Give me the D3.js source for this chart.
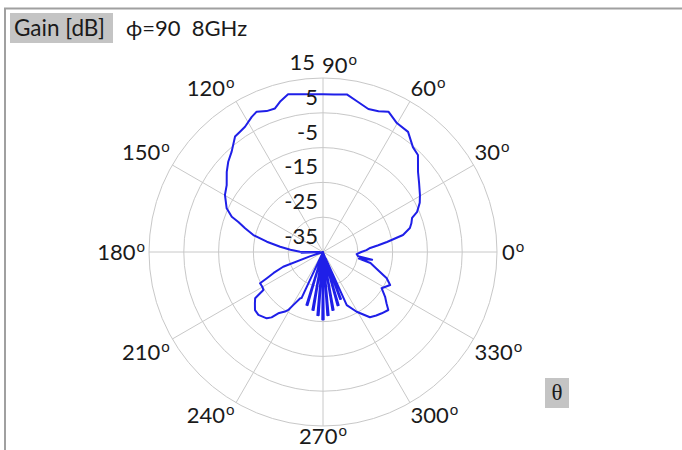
<!DOCTYPE html>
<html>
<head>
<meta charset="utf-8">
<script src="https://cdn.jsdelivr.net/npm/d3@7"></script>
<style>
  html, body { margin: 0; padding: 0; background: #fff; }
  svg { display: block; }
  text { font-family: Lato, "Open Sans", sans-serif; fill: #1a1a1a; }
</style>
</head>
<body>
<svg id="chart" width="682" height="450"></svg>
<script>
// Radiation pattern, phi = 90, 8 GHz: gain (dB) against theta (degrees)
const thetaDeg = [
  0, 2.5, 4.9, 7, 8.9, 12.0, 15.4, 18, 20.9, 23.1, 27, 30.4, 35.7, 40.1, 45.6, 49.4,
  54.7, 60.2, 65.0, 68.5, 72.4, 77.3, 81.4, 86, 90, 95, 100, 102.5, 106.0, 108.5,
  111.8, 115.3, 117.8, 121.9, 124.6, 127.3, 132.3, 136.4, 140.2, 145.2, 149.8, 155.6,
  158.9, 160.5, 163.1, 166.3, 169.6, 173.0, 176.0, 179.3, 180.6, 181.8, 183.2, 186,
  195, 198.5, 200.3, 203, 205.0, 206.4, 209.5, 212.5, 213.6, 214.3, 217, 220.5, 224.2,
  229.7, 231.8, 233.9, 237.5, 239.1, 240.7, 243.8, 245.0, 249.0, 252.6, 253.8, 256.7,
  259.6, 260.8, 262.9, 264.9, 266.1, 267.8, 269.4, 270.6, 272.3, 273.9, 275.1, 277.2,
  279.2, 280.4, 282.8, 285.2, 286.4, 288.2, 290.0, 291.0, 292.5,
  294.1, 299.4, 305.7, 310, 313.8, 318.4, 321, 324.2, 328.3, 333.8, 337.6, 342, 347,
  349.5, 351, 353, 356.4
];
const gainDb = [
  -24.0, -22.5, -21.4, -19.0, -16.4, -11.5, -9.1, -8.3, -7.6, -5.6, -3.8, -2.7, -1.0, 0.7, 4.0, 4.7,
  7.3, 7.7, 9.5, 8.5, 8.1, 9.4, 10.8, 10.4, 10.3, 10.5, 11.0, 11.4, 9.9, 8.5,
  8.6, 9.6, 8.9, 7.4, 7.0, 6.7, 4.0, 2.6, 1.0, -1.3, -2.4, -4.6,
  -6.9, -9.2, -11.6, -14.4, -18.6, -22.6, -25.6, -28.4, -34, -28.8, -35, -35,
  -35, -31, -22.8, -19.6, -17.2, -14.8, -14.9, -14.7, -12.7, -11.4, -10.5, -9.3, -9.1,
  -10.0, -11.1, -13.2, -14.7, -15.6, -17.5, -20.2, -20.4, -35, -19.1, -19.1, -35,
  -18.1, -18.1, -35, -16.8, -16.8, -35, -15.6, -15.6, -35, -16.8, -16.8, -35,
  -18.1, -18.1, -35, -19.1, -19.1, -35, -20.6, -20.6, -33,
  -18.3, -15.3, -11.9, -11.2, -10.6, -9.9, -11.5, -13.0, -15.2, -13.5, -15.2, -18.5, -21.0,
  -24.5, -20.7, -24.8, -25.3
];

// Axis ticks
const ringValues = [-25, -15, -5, 5, 15];
const ringLabels = [-35, -25, -15, -5, 5, 15];
const angleTicks = [0, 30, 60, 90, 120, 150, 180, 210, 240, 270, 300, 330];

const svg = d3.select("#chart");
const cx = 323, cy = 252, R = 174;
const rScale = d3.scaleLinear().domain([-35, 15]).range([0, R]).clamp(true);
const toRad = d => d * Math.PI / 180;
const FS = 22;

// outer frame lines
svg.append("line").attr("x1", 4).attr("x2", 682).attr("y1", 8.5).attr("y2", 8.5)
  .attr("stroke", "#a0a0a0").attr("stroke-width", 2);
svg.append("line").attr("x1", 5).attr("x2", 5).attr("y1", 8).attr("y2", 450)
  .attr("stroke", "#a0a0a0").attr("stroke-width", 2);

const g = svg.append("g").attr("transform", `translate(${cx},${cy})`);

// grid rings
g.selectAll("circle.ring").data(ringValues).join("circle")
  .attr("class", "ring").attr("r", d => rScale(d))
  .attr("fill", "none").attr("stroke", "#c8c8c8").attr("stroke-width", 1);

// spokes
g.selectAll("line.spoke").data(angleTicks).join("line")
  .attr("class", "spoke")
  .attr("x1", 0).attr("y1", 0)
  .attr("x2", d => R * Math.cos(toRad(d)))
  .attr("y2", d => -R * Math.sin(toRad(d)))
  .attr("stroke", "#c8c8c8").attr("stroke-width", 1);

// pattern trace
const pts = thetaDeg.map((t, i) => ({ t, v: gainDb[i] }));
const radial = d3.lineRadial()
  .angle(d => Math.PI / 2 - toRad(d.t))
  .radius(d => rScale(d.v))
  .curve(d3.curveLinearClosed);
g.append("path").attr("d", radial(pts))
  .attr("fill", "none").attr("stroke", "#1f1fe8").attr("stroke-width", 2)
  .attr("stroke-linejoin", "round");

// radial labels
g.selectAll("text.rlab").data(ringLabels).join("text")
  .attr("class", "rlab")
  .attr("x", d => d === 15 ? -8 : -5)
  .attr("y", d => -rScale(d) - 8)
  .attr("text-anchor", "end")
  .attr("font-size", FS)
  .text(d => d);

// angle labels with superscript degree mark
angleTicks.forEach(a => {
  const c = Math.cos(toRad(a)), s = Math.sin(toRad(a));
  let anchor = "middle", x = 0;
  if (c > 0.01) { anchor = "start"; x = (R + 1) * c + (Math.abs(s) < 0.01 ? 4 : 0); }
  else if (c < -0.01) { anchor = "end"; x = (R + 3) * c - (Math.abs(s) < 0.01 ? 1 : 0); }
  let y = -R * s - 13 * Math.sign(Math.round(s * 1000));
  if (a === 90) { anchor = "start"; x = -1; }
  if (a === 270) { y -= 3; }
  const t = g.append("text")
    .attr("x", x).attr("y", y).attr("dy", "0.35em")
    .attr("text-anchor", anchor).attr("font-size", FS);
  t.append("tspan").text(a);
  t.append("tspan").attr("dy", -8).attr("dx", 1).attr("font-size", 15).text("o");
});

// header
svg.append("rect").attr("x", 10).attr("y", 13).attr("width", 103).attr("height", 30)
  .attr("fill", "#c4c4c4");
svg.append("text").attr("x", 14).attr("y", 36).attr("font-size", 22.5).text("Gain [dB]");
svg.append("text").attr("x", 126).attr("y", 36).attr("font-size", FS)
  .attr("xml:space", "preserve").text("\u03d5=90  8GHz");

// theta axis marker
svg.append("rect").attr("x", 545).attr("y", 378).attr("width", 24).attr("height", 30)
  .attr("fill", "#c4c4c4");
svg.append("text").attr("x", 557).attr("y", 400).attr("text-anchor", "middle")
  .attr("font-size", 23).style("font-family", "'Liberation Serif', 'DejaVu Serif', serif")
  .text("\u03b8");
</script>
</body>
</html>
